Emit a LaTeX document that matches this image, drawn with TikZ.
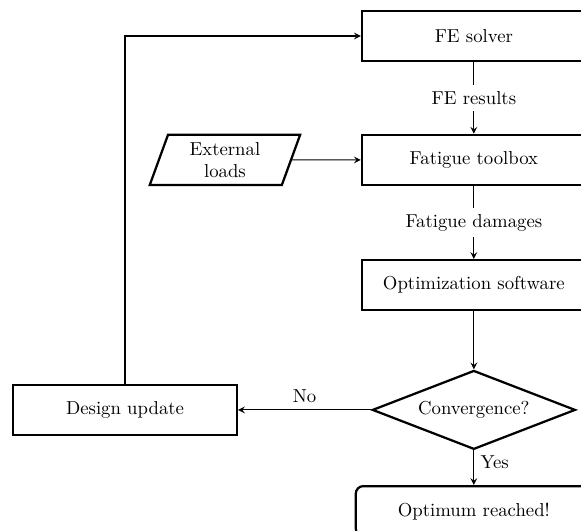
\documentclass[tikz,border=0pt]{standalone}
\usepackage{amsmath}
\usepackage{amssymb}
\usepackage{tikz}
\usetikzlibrary{positioning,arrows.meta,shapes}
\usepackage{xcolor}

\begin{document}
\begin{tikzpicture}[
        block/.style={rectangle, draw, very thick, minimum width=4.2cm, minimum height=0.94cm},
        finish/.style={block, rounded corners, minimum width=4.43cm},
        decision/.style={diamond, draw, very thick, aspect=2.57, inner sep=0pt, minimum width=3.81cm, minimum height=1.48cm},
        inout/.style={trapezium, trapezium left angle=70, trapezium right angle=110, draw, very thick,
            align=center, inner xsep=-0.6pt, inner ysep=-1.5pt, minimum width=2.78cm, minimum height=0.94cm},
        line/.style={semithick, ->, >=stealth}
    ]
        % Frame of the crop
        \clip (0,0) rectangle (10.9,-9.944);

        % Main chain
        \node[block] (solver) at (8.89,-0.675) {FE solver};
        \node[block] (toolbox) at (8.89,-3.0) {Fatigue toolbox};
        \node[block] (software) at (8.89,-5.35) {Optimization software};
        \node[decision] (conv) at (8.89,-7.69) {Convergence?};
        \node[finish] (optimum) at (8.89,-9.59) {Optimum reached!};

        % Side nodes
        \node[block] (update) at (2.345,-7.69) {Design update};
        \node[inout] (loads) at (4.22,-3.0) {External\\loads};

        % Connectors
        \draw[line] (solver) -- node[fill=white] {FE results} (toolbox);
        \draw[line] (toolbox) -- node[fill=white] {Fatigue damages} (software);
        \draw[line] (software) -- (conv);
        \draw[line] (conv) -- node[above] {No} (update);
        \draw[line] (conv) -- node[right, pos=0.35] {Yes} (optimum);
        \draw[line] (loads) -- (toolbox);
        \draw[line] (update.north) |- (solver.west);
    \end{tikzpicture}
\end{document}
